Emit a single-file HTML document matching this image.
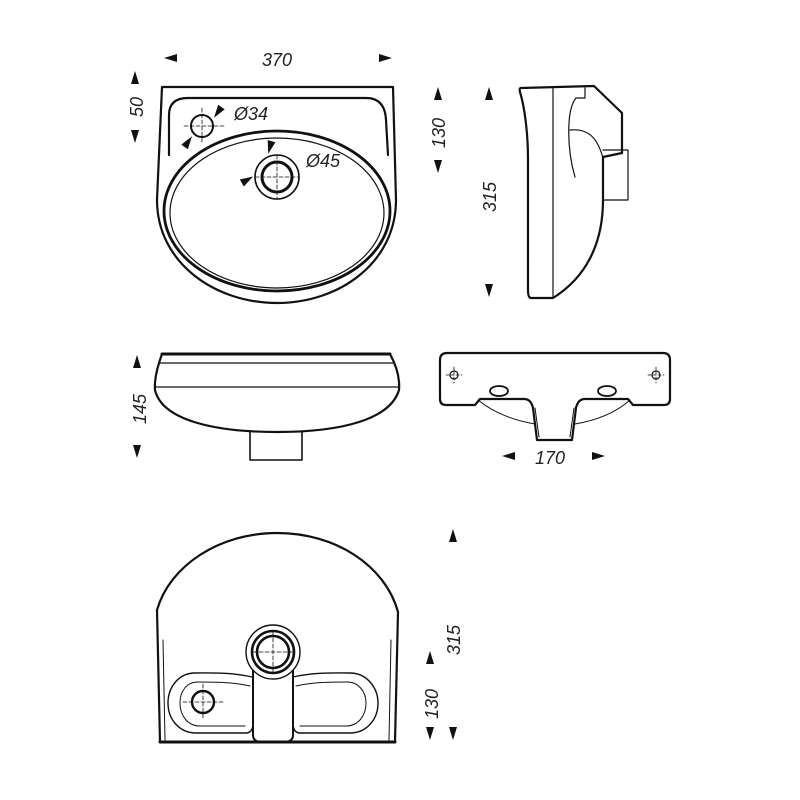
<!DOCTYPE html>
<html><head><meta charset="utf-8"><style>html,body{margin:0;padding:0;background:#fff}svg{display:block}text{font-family:"Liberation Sans",sans-serif;font-style:italic;font-size:18px;fill:#222}</style></head><body>
<svg width="800" height="800" viewBox="0 0 800 800" xmlns="http://www.w3.org/2000/svg">
<defs>
<path id="up" d="M-4,6 L0,-7 L4,6 Z" fill="#111"/>
<path id="dn" d="M-4,-6 L0,7 L4,-6 Z" fill="#111"/>
<path id="lf" d="M6,-4 L-7,0 L6,4 Z" fill="#111"/>
<path id="rt" d="M-6,-4 L7,0 L-6,4 Z" fill="#111"/>
</defs>
<g fill="none" stroke="#111" stroke-linejoin="round" stroke-linecap="round">
<!-- TOP VIEW -->
<path d="M162,87 L393,87 L396,200 C396,262 340,303 277,303 C214,303 157,262 157,200 Z" stroke-width="2.2"/>
<path d="M169,155 L169,115 Q169,98 188,98 L366,98 Q385,98 386,120 L388,155" stroke-width="2.2"/>
<ellipse cx="277" cy="211" rx="113" ry="80" stroke-width="2.8"/>
<ellipse cx="277" cy="213" rx="107" ry="75" stroke-width="1.2"/>
<circle cx="277" cy="177" r="22" stroke-width="1.6"/>
<circle cx="277" cy="177" r="15" stroke-width="3"/>
<path d="M255,177 H299 M277,155 V199" stroke-width="0.8" stroke-dasharray="4,2"/>
<circle cx="202" cy="126" r="11" stroke-width="2"/>
<path d="M184,126 H225 M202,108 V144" stroke-width="0.8" stroke-dasharray="4,2"/>
<!-- SIDE VIEW -->
<path d="M521,88 L594,86 L622,113 L622,153 L603,157 L603,200 C603,245 585,278 553,298 L531,298 Q528,298 528,290 L528,160 C528,130 524,105 520,92 Q519,88 521,88 Z" stroke-width="2.2"/>
<path d="M553,88 V298" stroke-width="1.2"/>
<path d="M603,150 H628 V200 H603" stroke-width="1.2"/>
<path d="M585,88 V98 H576 C566,110 567,150 575,177" stroke-width="1.2"/>
<path d="M570,130 C590,128 598,140 603,158" stroke-width="1.2"/>
<!-- FRONT VIEW -->
<path d="M162,354 L390,354 C396,365 400,378 399,390 C390,420 340,432 277,432 C214,432 162,420 155,390 C154,378 158,365 162,354 Z" stroke-width="2.2"/>
<path d="M162,354 H390" stroke-width="3"/>
<path d="M159,363 H393 M156,387 H398" stroke-width="1.2"/>
<path d="M250,432 V460 H302 V432" stroke-width="1.6"/>
<!-- BACK VIEW -->
<path d="M447,353 L663,353 Q670,353 670,360 L670,399 Q670,405 664,405 L633,405 L628,399 L585,399 Q578,399 576,408 L572,440 L537,440 L533,408 Q531,399 524,399 L480,399 L475,405 L446,405 Q440,405 440,399 L440,360 Q440,353 447,353 Z" stroke-width="2.2"/>
<path d="M478,400 Q500,418 535,424 M575,424 Q610,418 630,400" stroke-width="1"/>
<path d="M539,437 L535,408 M570,437 L574,408" stroke-width="1"/>
<ellipse cx="499" cy="391" rx="9" ry="5" stroke-width="1.8"/>
<ellipse cx="607" cy="391" rx="9" ry="5" stroke-width="1.8"/>
<circle cx="454" cy="375" r="4" stroke-width="1.2"/>
<circle cx="656" cy="375" r="4" stroke-width="1.2"/>
<path d="M446,375 H462 M454,367 V383 M648,375 H664 M656,367 V383" stroke-width="0.8" stroke-dasharray="3,2"/>
<!-- BOTTOM VIEW -->
<path d="M160,742 L157,610 C170,565 220,533 277,533 C335,533 385,565 398,612 L395,742 Z" stroke-width="2.2"/>
<path d="M160,742 H395" stroke-width="3"/>
<path d="M163,640 L165,740 M391,640 L389,740" stroke-width="1"/>
<path d="M252,677 C230,672 210,673 195,673 C178,673 168,688 168,703 C168,720 180,733 196,733 L246,733 Q252,733 253,725 M293,677 C315,672 335,673 350,673 C367,673 378,688 378,703 C378,720 366,733 350,733 L300,733 Q294,733 293,725" stroke-width="1.4"/>
<path d="M250,686 C232,682 215,682 198,682 C186,682 180,692 180,703 C180,716 188,726 200,726 L245,726 M296,686 C314,682 331,682 347,682 C359,682 366,692 366,703 C366,716 358,726 346,726 L300,726" stroke-width="1"/>
<circle cx="203" cy="702" r="11" stroke-width="2.4"/>
<path d="M183,702 H225 M203,684 V720" stroke-width="0.8" stroke-dasharray="4,2"/>
<path d="M253,668 V735 Q253,742 262,742 L284,742 Q293,742 293,735 V668" stroke-width="2"/>
<circle cx="273" cy="652" r="27" stroke-width="1.4" fill="#fff"/>
<circle cx="273" cy="652" r="21" stroke-width="2.6"/>
<circle cx="273" cy="652" r="16" stroke-width="2.6"/>
<path d="M253,652 H293 M273,632 V672" stroke-width="0.8" stroke-dasharray="4,2"/>
</g>
<!-- arrows -->
<use href="#lf" x="171" y="58"/><use href="#rt" x="385" y="58"/>
<use href="#up" x="135" y="78"/><use href="#dn" x="135" y="136"/>
<g transform="translate(218,112) rotate(35)"><use href="#dn"/></g>
<g transform="translate(188,142) rotate(35)"><use href="#up"/></g>
<g transform="translate(270,147) rotate(15)"><use href="#dn"/></g>
<g transform="translate(247,180) rotate(60)"><use href="#up"/></g>
<use href="#up" x="438" y="94"/><use href="#dn" x="438" y="166"/>
<use href="#up" x="489" y="94"/><use href="#dn" x="489" y="290"/>
<use href="#up" x="137" y="362"/><use href="#dn" x="137" y="451"/>
<use href="#lf" x="509" y="456"/><use href="#rt" x="598" y="456"/>
<use href="#up" x="453" y="536"/><use href="#dn" x="453" y="733"/>
<use href="#up" x="430" y="658"/><use href="#dn" x="430" y="733"/>
<!-- labels -->
<text x="262" y="66">370</text>
<text x="234" y="120">Ø34</text>
<text x="306" y="167">Ø45</text>
<text transform="translate(143,117) rotate(-90)">50</text>
<text transform="translate(445,148) rotate(-90)">130</text>
<text transform="translate(496,212) rotate(-90)">315</text>
<text transform="translate(146,424) rotate(-90)">145</text>
<text x="535" y="464">170</text>
<text transform="translate(460,655) rotate(-90)">315</text>
<text transform="translate(438,719) rotate(-90)">130</text>
</svg>
</body></html>
